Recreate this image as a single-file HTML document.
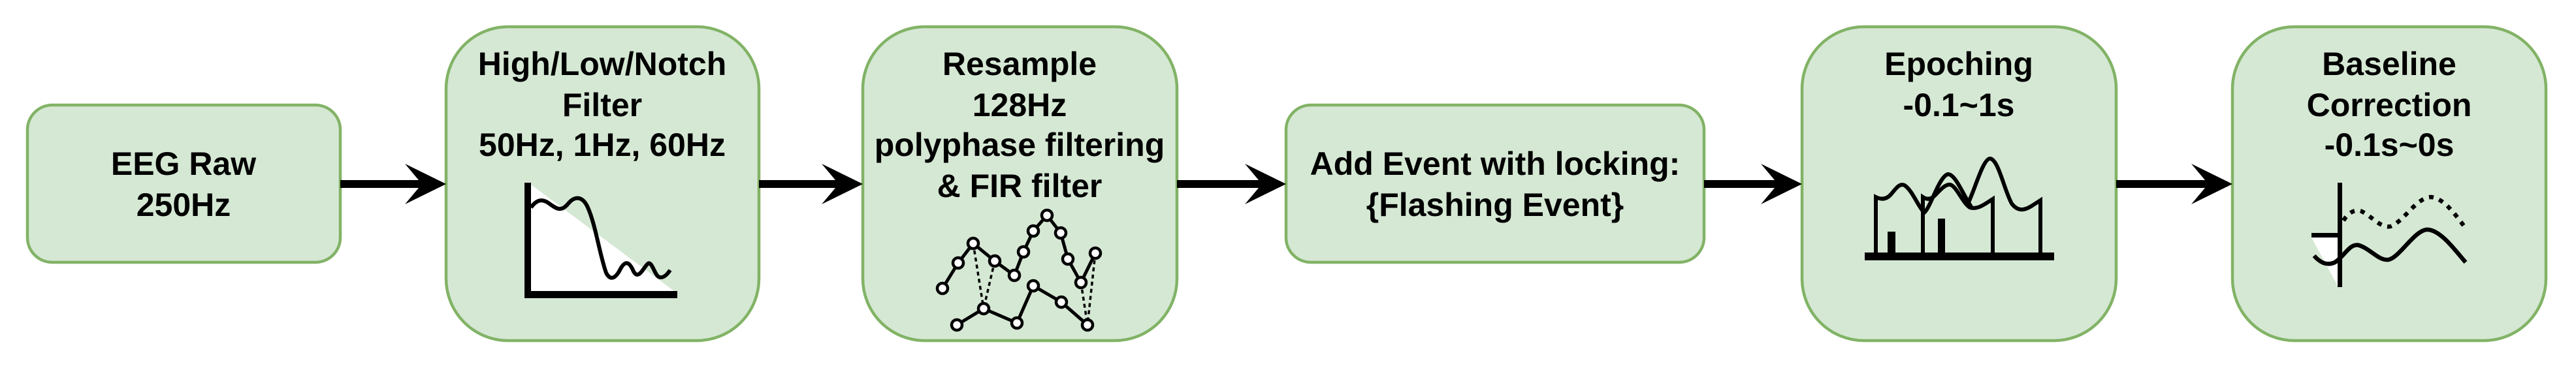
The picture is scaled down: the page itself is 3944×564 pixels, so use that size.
<!DOCTYPE html>
<html><head><meta charset="utf-8"><style>
html,body{margin:0;padding:0;background:#fff;}
svg{display:block;}
text{font-family:"Liberation Sans",Arial,sans-serif;font-weight:bold;font-size:50px;fill:#000;text-anchor:middle;}
</style></head><body>
<svg width="3944" height="564" viewBox="0 0 3944 564" xmlns="http://www.w3.org/2000/svg">
<g fill="#d5e8d4" stroke="#82b366" stroke-width="4.5">
<rect x="42" y="161" width="479" height="241" rx="38"/>
<rect x="683" y="41" width="479" height="481" rx="95"/>
<rect x="1321" y="41" width="481" height="481" rx="95"/>
<rect x="1969" y="161" width="640" height="241" rx="38"/>
<rect x="2759" y="41" width="481" height="481" rx="95"/>
<rect x="3418" y="41" width="480" height="481" rx="95"/>
</g>
<g fill="#000">
<rect x="521" y="276" width="130" height="12"/>
<polygon points="683,282 620,251 646,282 620,313"/>
<rect x="1162" y="276" width="130" height="12"/>
<polygon points="1321,282 1258,251 1284,282 1258,313"/>
<rect x="1802" y="276" width="135" height="12"/>
<polygon points="1969,282 1906,251 1932,282 1906,313"/>
<rect x="2609" y="276" width="120" height="12"/>
<polygon points="2759,282 2696,251 2722,282 2696,313"/>
<rect x="3240" y="276" width="150" height="12"/>
<polygon points="3418,282 3355,251 3381,282 3355,313"/>
</g>
<text x="281" y="268">EEG Raw</text>
<text x="281" y="331">250Hz</text>
<text x="922" y="115">High/Low/Notch</text>
<text x="922" y="178">Filter</text>
<text x="922" y="239">50Hz, 1Hz, 60Hz</text>
<text x="1561" y="115">Resample</text>
<text x="1561" y="178">128Hz</text>
<text x="1561" y="239">polyphase filtering</text>
<text x="1561" y="302">&amp; FIR filter</text>
<text x="2289" y="268">Add Event with locking:</text>
<text x="2289" y="331">{Flashing Event}</text>
<text x="2999" y="115">Epoching</text>
<text x="2999" y="178">-0.1~1s</text>
<text x="3658" y="115">Baseline</text>
<text x="3658" y="178">Correction</text>
<text x="3658" y="239">-0.1s~0s</text>
<polygon points="813,283 1032,446 813,446" fill="#fff"/>
<rect x="803" y="280" width="10" height="177" fill="#000"/>
<rect x="803" y="446" width="234" height="11" fill="#000"/>
<path d="M813,318 C820,308 828,304 838,310 C850,318 858,327 870,312 C880,300 892,300 900,318 C912,345 918,390 928,418 C934,430 942,428 950,412 C958,398 964,402 970,416 C978,430 985,410 992,404 C998,400 1002,420 1008,424 C1015,428 1022,420 1026,414" fill="none" stroke="#000" stroke-width="6"/>
<g fill="none" stroke="#000">
<path d="M1490,373 L1506,473 M1523,400 L1506,473 M1655,433 L1665,498 M1677,388 L1665,498" stroke-width="3.5" stroke-dasharray="6 5"/>
<polyline points="1443,442 1467,403 1490,373 1523,400 1553,422 1567,386 1582,354 1603,330 1624,357 1635,397 1655,433 1677,388" stroke-width="5"/>
<polyline points="1465,498 1506,473 1557,495 1582,438 1625,463 1665,498" stroke-width="5"/>
</g>
<g fill="#fff" stroke="#000" stroke-width="4.5">
<circle cx="1443" cy="442" r="8"/><circle cx="1467" cy="403" r="8"/><circle cx="1490" cy="373" r="8"/><circle cx="1523" cy="400" r="8"/><circle cx="1553" cy="422" r="8"/><circle cx="1567" cy="386" r="8"/><circle cx="1582" cy="354" r="8"/><circle cx="1603" cy="330" r="8"/><circle cx="1624" cy="357" r="8"/><circle cx="1635" cy="397" r="8"/><circle cx="1655" cy="433" r="8"/><circle cx="1677" cy="388" r="8"/>
<circle cx="1465" cy="498" r="8"/><circle cx="1506" cy="473" r="8"/><circle cx="1557" cy="495" r="8"/><circle cx="1582" cy="438" r="8"/><circle cx="1625" cy="463" r="8"/><circle cx="1665" cy="498" r="8"/>
</g>
<rect x="2855" y="387" width="290" height="12" fill="#000"/>
<rect x="2890" y="355" width="12" height="34" fill="#000"/>
<rect x="2967" y="335" width="11" height="54" fill="#000"/>
<g fill="none" stroke="#000" stroke-width="6">
<path d="M2872,389 V302 C2880,306 2888,306 2895,298 C2902,290 2908,280 2916,284 C2928,292 2936,315 2946,326 C2956,318 2968,272 2982,267 C2994,266 3006,300 3020,320"/>
<path d="M2944,389 V302 C2950,306 2956,306 2962,300 C2970,292 2978,282 2986,283 C2996,286 3004,310 3016,318 C3028,322 3040,312 3051,305 V389"/>
<path d="M3013,312 C3024,290 3036,243 3047,243 C3060,245 3068,290 3080,312 C3090,325 3100,322 3110,316 L3124,307 V389"/>
</g>
<polygon points="3539,364 3579,364 3579,438" fill="#fff"/>
<rect x="3579" y="280" width="7" height="160" fill="#000"/>
<rect x="3539" y="357" width="44" height="7" fill="#000"/>
<path d="M3543,392 C3552,402 3562,408 3575,402 C3590,392 3598,372 3612,376 C3630,382 3642,400 3657,398 C3675,394 3698,350 3718,352 C3738,354 3760,385 3775,402" fill="none" stroke="#000" stroke-width="6.5"/>
<path d="M3588,338 C3596,325 3606,320 3616,324 C3632,332 3645,350 3660,347 C3680,340 3700,302 3722,302 C3745,304 3765,338 3777,352" fill="none" stroke="#000" stroke-width="6.5" stroke-dasharray="7 9"/>
</svg>
</body></html>
